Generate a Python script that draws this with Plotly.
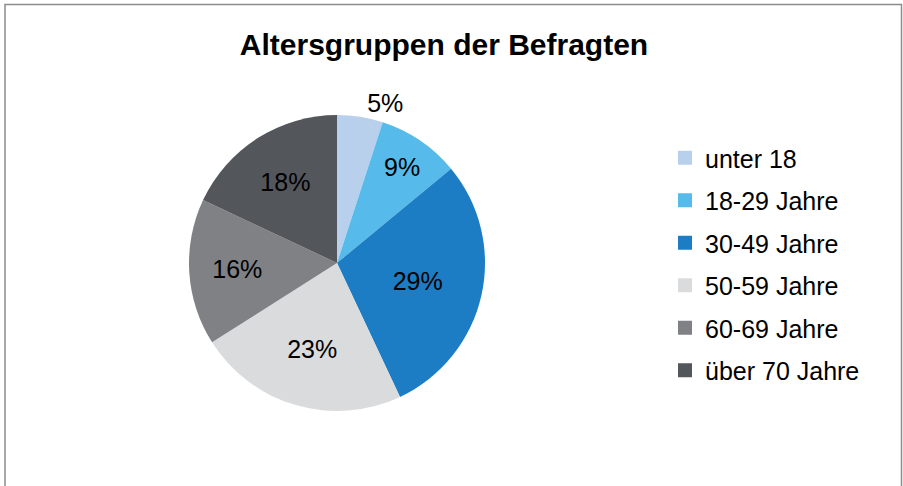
import plotly.graph_objects as go

labels = ["unter 18", "18-29 Jahre", "30-49 Jahre", "50-59 Jahre", "60-69 Jahre", "über 70 Jahre"]
values = [5, 9, 29, 23, 16, 18]
colors = ["#B9D0EC", "#56BBEA", "#1C7DC4", "#DADBDD", "#7F8185", "#53565B"]
text_pos = ["outside", "inside", "inside", "inside", "inside", "inside"]

W, H = 903, 486
cx, cy, half = 337, 263, 148
FONT = "Liberation Sans, Arial"

fig = go.Figure()
fig.add_trace(go.Pie(
    labels=labels, values=values, sort=False, direction="clockwise", rotation=0,
    marker=dict(colors=colors, line=dict(width=0)),
    texttemplate="%{value}%", textposition=text_pos,
    insidetextorientation="horizontal",
    textfont=dict(family=FONT, size=25, color="#000000"),
    showlegend=False, hoverinfo="label+percent",
    domain=dict(x=[(cx - half) / W, (cx + half) / W], y=[1 - (cy + half) / H, 1 - (cy - half) / H]),
))
for lab, col in zip(labels, colors):
    fig.add_trace(go.Scatter(
        x=[None], y=[None], mode="markers", name=lab, legendgroup=lab,
        marker=dict(symbol="square", size=14, color=col),
        showlegend=True,
    ))

fig.update_layout(
    width=W, height=H,
    margin=dict(l=0, r=0, t=0, b=0),
    paper_bgcolor="white", plot_bgcolor="white",
    xaxis=dict(visible=False), yaxis=dict(visible=False),
    title=dict(text="<b>Altersgruppen der Befragten</b>", x=444 / W, xanchor="center",
               y=1 - 44 / H, yanchor="middle",
               font=dict(family=FONT, size=30, color="#000000")),
    legend=dict(x=665 / W, xanchor="left", y=1 - 135 / H, yanchor="top",
                font=dict(family=FONT, size=25, color="#000000"),
                tracegroupgap=7, bgcolor="rgba(0,0,0,0)"),
    shapes=[dict(type="rect", xref="paper", yref="paper",
                 x0=5 / W, x1=901.5 / W, y0=-0.1, y1=1 - 4.5 / H,
                 line=dict(color="#8C8C8C", width=1.5), fillcolor="rgba(0,0,0,0)")],
)
fig.write_html("out.html", config={"displayModeBar": False},
               post_script="document.body.style.margin='0';document.body.style.overflow='hidden';")
